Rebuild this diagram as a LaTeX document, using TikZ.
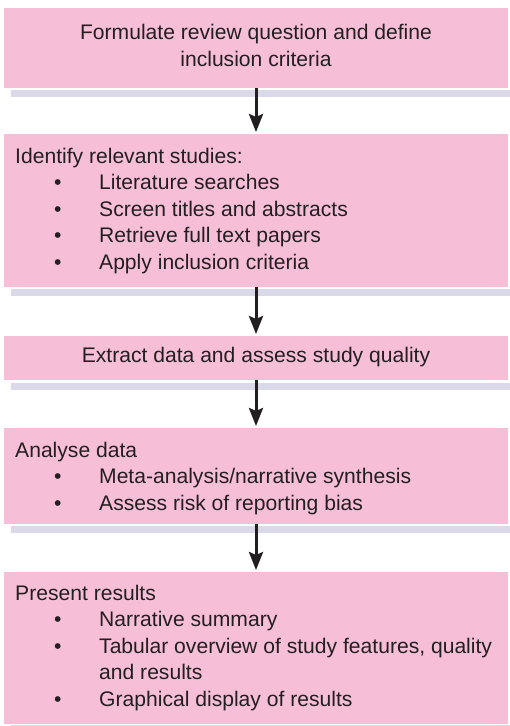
\documentclass[tikz,border=0pt]{standalone}
\usepackage{fontspec}
\setmainfont{Liberation Sans}
\usetikzlibrary{arrows.meta}

\definecolor{boxpink}{RGB}{246,191,215}
\definecolor{shadelav}{RGB}{218,217,234}
\definecolor{inkgray}{RGB}{35,31,32}

% bullet row: indent, bullet, then item text
\newcommand{\flowitem}[1]{\hspace*{39bp}\makebox[45bp][l]{\textbullet}#1}
\newcommand{\flowcont}[1]{\hspace*{84bp}#1}

\begin{document}
\begin{tikzpicture}[x=1bp,y=1bp]
\tikzset{
  stepbox/.style={fill=boxpink, draw=none, minimum width=504bp, anchor=north west,
    inner sep=0, outer sep=0},
  shadebar/.style={fill=shadelav, draw=none, minimum width=499bp, minimum height=7bp,
    anchor=north west, inner sep=0, outer sep=0},
  txt/.style={font=\fontsize{21.1bp}{26.6bp}\selectfont, text=inkgray, inner sep=0},
  flow/.style={draw=inkgray, line width=3bp, shorten >=2bp,
    -{Stealth[length=18bp,width=14bp,inset=3bp]}}
}
\useasboundingbox (0,0) rectangle (510,-726);

% shadow strips under each box
\node[shadebar] (sh1) at (11,-90) {};
\node[shadebar] (sh2) at (11,-289) {};
\node[shadebar] (sh3) at (11,-383) {};
\node[shadebar] (sh4) at (11,-526) {};
\node[shadebar] (sh5) at (11,-725) {};

% boxes
\node[stepbox, minimum height=80bp]  (b1) at (4,-8)   {};
\node[stepbox, minimum height=153bp] (b2) at (4,-134) {};
\node[stepbox, minimum height=44bp]  (b3) at (4,-336) {};
\node[stepbox, minimum height=96bp]  (b4) at (4,-428) {};
\node[stepbox, minimum height=152bp] (b5) at (4,-572) {};

% box texts
\node[txt, anchor=base] (t1) at (256,-40) {\begin{tabular}[t]{@{}c@{}}
  Formulate review question and define\\ inclusion criteria\end{tabular}};

\node[txt, anchor=base west] (t2) at (15,-163) {\begin{tabular}[t]{@{}l@{}}
  Identify relevant studies:\\
  \flowitem{Literature searches}\\
  \flowitem{Screen titles and abstracts}\\
  \flowitem{Retrieve full text papers}\\
  \flowitem{Apply inclusion criteria}\end{tabular}};

\node[txt, anchor=base] (t3) at (256,-362) {Extract data and assess study quality};

\node[txt, anchor=base west] (t4) at (15,-457) {\begin{tabular}[t]{@{}l@{}}
  Analyse data\\
  \flowitem{Meta-analysis/narrative synthesis}\\
  \flowitem{Assess risk of reporting bias}\end{tabular}};

\node[txt, anchor=base west] (t5) at (15,-600) {\begin{tabular}[t]{@{}l@{}}
  Present results\\
  \flowitem{Narrative summary}\\
  \flowitem{Tabular overview of study features, quality}\\
  \flowcont{and results}\\
  \flowitem{Graphical display of results}\end{tabular}};

% arrows between steps
\draw[flow] (b1.south) -- (b2.north);
\draw[flow] (b2.south) -- (b3.north);
\draw[flow] (b3.south) -- (b4.north);
\draw[flow] (b4.south) -- (b5.north);
\end{tikzpicture}
\end{document}
